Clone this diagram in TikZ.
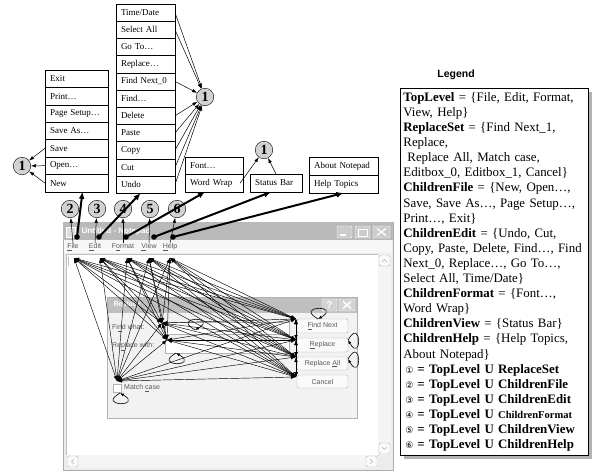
\documentclass[tikz,border=0pt]{standalone}
\usepackage{fontspec}
\setmainfont{Liberation Serif}
\setsansfont{Liberation Sans}
\newfontfamily\circfont{DejaVu Sans}
\usetikzlibrary{positioning,arrows.meta,shadows}
\tikzset{
menuitem/.style={
	draw, rectangle, text width=#1, inner xsep=5pt, inner ysep=0pt,
	minimum height=17.4pt, outer sep=0pt, align=left,
	font=\fontsize{9}{10}\selectfont},
menuitem/.default=53pt,
numcirc/.style={
	draw, circle, fill=gray!35, inner sep=0pt, minimum size=17.5pt,
	font=\fontsize{14}{14}\selectfont\bfseries},
thinarrow/.style={-{Latex[length=5pt,width=3.5pt]}, line width=0.5pt},
thickarrow/.style={-{Latex[length=7pt,width=6pt]}, line width=2pt},
fan/.style={{Latex[length=5pt,width=3.5pt]}-{Latex[length=5pt,width=3.5pt]}, line width=0.45pt},
selfloop/.style={-{Latex[length=4pt,width=3pt]}, line width=0.6pt, min distance=28pt},
guitext/.style={font=\sffamily\fontsize{7}{8}\selectfont, text=gray!70!black, inner sep=0pt},
guibtn/.style={draw=gray!60, fill=gray!4, rounded corners=1.5pt}
}
\newcommand{\circnum}[1]{{\circfont\fontsize{9}{10}\selectfont #1}}

\begin{document}
\begin{tikzpicture}[x=1pt, y=-1pt]
\useasboundingbox (0,0) rectangle (592,472);

% notepad window
\draw[gray!65, fill=gray!15, line width=0.8pt] (63,222) rectangle (393,470);
\fill[gray!55] (63.4,222.4) rectangle (392.6,240);
\draw[white, fill=gray!25] (66,227) rectangle (75,237);
\node[anchor=west, text=white, font=\sffamily\bfseries\fontsize{8}{9}\selectfont] (wtitle) at (78,231) {Untitled - Notepad};
\draw[white, fill=gray!40, rounded corners=1pt] (337,226) rectangle (352,238);
\draw[white, line width=1.2pt] (340,235) -- (346,235);
\draw[white, fill=gray!40, rounded corners=1pt] (355,226) rectangle (370,238);
\draw[white, line width=0.9pt] (358,229) rectangle (367,236);
\draw[white, fill=gray!40, rounded corners=1pt] (373,226) rectangle (390,238);
\draw[white, line width=1.2pt] (377,228.5) -- (386,235.5) (386,228.5) -- (377,235.5);
\fill[gray!6] (64,240) rectangle (392,253);
\node[guitext] (mfile) at (73,247) {\underline{F}ile};
\node[guitext] (medit) at (95,247) {\underline{E}dit};
\node[guitext] (mformat) at (123,247) {F\underline{o}rmat};
\node[guitext] (mview) at (149,247) {\underline{V}iew};
\node[guitext] (mhelp) at (170,247) {\underline{H}elp};
\draw[gray!50, fill=white] (66,254) rectangle (378,455);
\fill[gray!8] (378,254) rectangle (391,455);
\draw[guibtn] (379,255) rectangle (390,266);
\draw[guibtn] (379,443) rectangle (390,454);
\fill[gray!8] (66,455) rectangle (378,468);
\draw[guibtn] (67,456) rectangle (78,467);
\draw[guibtn] (366,456) rectangle (377,467);
\draw[gray!60] (382,262) -- (384.5,259.5) -- (387,262) (382,447) -- (384.5,449.5) -- (387,447)
	(74,459) -- (71.5,461.5) -- (74,464) (370,459) -- (372.5,461.5) -- (370,464);
\fill[gray!50] (68,257) rectangle (69,266);

% replace dialog
\draw[gray!60, fill=gray!10, line width=1pt] (107,297) rectangle (357,418);
\fill[gray!50] (107.5,297.5) rectangle (356.5,313);
\node[anchor=west, text=white, font=\sffamily\bfseries\fontsize{7}{8}\selectfont] (dtitle) at (110,305) {Replace};
\draw[white, fill=gray!35, rounded corners=1pt] (322,299) rectangle (337,311);
\node[text=white, font=\sffamily\bfseries\fontsize{10}{10}\selectfont, inner sep=0pt] (dhelp) at (329.5,305) {?};
\draw[white, fill=gray!35, rounded corners=1pt] (339,299) rectangle (355,311);
\draw[white, line width=1.5pt] (343,301.5) -- (351,308.5) (351,301.5) -- (343,308.5);
\node[guitext, anchor=west] (lblfind) at (112,328) {Fi\underline{n}d what:};
\node[guitext, anchor=west] (lblrepl) at (112,347) {Re\underline{p}lace with:};
\draw[gray!60, fill=white] (165,322) rectangle (289,334);
\draw[gray!60, fill=white] (165,340) rectangle (289,353);
\draw[guibtn] (297,319) rectangle (348,333);
\node[guitext] (txtfind) at (322.5,326) {\underline{F}ind Next};
\draw[guibtn] (297,338) rectangle (348,352);
\node[guitext] (txtrepl) at (322.5,345) {\underline{R}eplace};
\draw[guibtn] (297,357) rectangle (348,370);
\node[guitext] (txtall) at (322.5,363.5) {Replace \underline{A}ll};
\draw[guibtn] (297,375) rectangle (348,388);
\node[guitext] (txtcancel) at (322.5,381.5) {Cancel};
\draw[gray!60, fill=white] (113,384) rectangle (121,392);
\node[guitext, anchor=west] (lblmatch) at (124,388) {Match \underline{c}ase};

% event points
\coordinate (lfile) at (74,258);
\coordinate (ledit) at (100,258);
\coordinate (lformat) at (127,258);
\coordinate (lview) at (149,258);
\coordinate (lhelp) at (170,258);
\coordinate (dfind) at (162,323);
\coordinate (drepl) at (167,340);
\coordinate (dmatch) at (117,381);
\coordinate (bfind) at (296,319);
\coordinate (brepl) at (296,340);
\coordinate (ball) at (296,357);
\coordinate (bcancel) at (296,377);

\foreach \m in {lfile,ledit,lformat,lview,lhelp}
	\foreach \d in {dfind,drepl,dmatch,bfind,brepl,ball,bcancel}
		\draw[fan] (\m) -- (\d);
\foreach \a/\b in {dmatch/dfind,dmatch/drepl,dmatch/bfind,dmatch/brepl,dmatch/ball,dmatch/bcancel,
	dfind/drepl,dfind/bfind,dfind/brepl,dfind/ball,dfind/bcancel,
	drepl/bfind,drepl/brepl,drepl/ball,drepl/bcancel,
	bfind/brepl,bfind/ball,bfind/bcancel,brepl/ball,brepl/bcancel,ball/bcancel}
	\draw[fan] (\a) -- (\b);

% self loops
\coordinate (lpfn) at (318,319);
\coordinate (lprp) at (348,340);
\coordinate (lpra) at (348,359);
\coordinate (lpmc) at (120,393);
\coordinate (lpe1) at (176,353);
\coordinate (lpe0) at (195,330);
\draw[selfloop] (lpfn) to[out=150,in=30] (lpfn);
\draw[selfloop] (lprp) to[out=60,in=-60] (lprp);
\draw[selfloop] (lpra) to[out=60,in=-60] (lpra);
\draw[selfloop] (lpmc) to[out=-150,in=-30] (lpmc);
\draw[selfloop] (lpe1) to[out=-150,in=-30] (lpe1);
\draw[selfloop] (lpe0) to[out=150,in=30] (lpe0);

% file menu
\node[menuitem, anchor=north west] (fexit) at (45,70) {Exit};
\node[menuitem, below=0pt of fexit] (fprint) {Print…};
\node[menuitem, below=0pt of fprint] (fpage) {Page Setup…};
\node[menuitem, below=0pt of fpage] (fsaveas) {Save As…};
\node[menuitem, below=0pt of fsaveas] (fsave) {Save};
\node[menuitem, below=0pt of fsave] (fopen) {Open…};
\node[menuitem, below=0pt of fopen] (fnew) {New};

% edit menu
\tikzset{editrow/.style={menuitem=49pt, minimum height=17.2pt}}
\node[editrow, anchor=north west] (etime) at (116,4) {Time/Date};
\node[editrow, below=0pt of etime] (esel) {Select All};
\node[editrow, below=0pt of esel] (egoto) {Go To…};
\node[editrow, below=0pt of egoto] (erepl) {Replace…};
\node[editrow, below=0pt of erepl] (efind0) {Find Next\_0};
\node[editrow, below=0pt of efind0] (efind) {Find…};
\node[editrow, below=0pt of efind] (edel) {Delete};
\node[editrow, below=0pt of edel] (epaste) {Paste};
\node[editrow, below=0pt of epaste] (ecopy) {Copy};
\node[editrow, below=0pt of ecopy] (ecut) {Cut};
\node[editrow, below=0pt of ecut] (eundo) {Undo};

% format, view, help menus
\node[menuitem=48pt, minimum height=17.5pt, anchor=north west] (ofont) at (185,157) {Font…};
\node[menuitem=48pt, minimum height=17.5pt, below=0pt of ofont] (owrap) {Word Wrap};
\node[menuitem=42pt, minimum height=18pt, anchor=north west] (vstatus) at (250,174) {Status Bar};
\node[menuitem=59pt, minimum height=18pt, anchor=north west] (habout) at (309,157) {About Notepad};
\node[menuitem=59pt, minimum height=18pt, below=0pt of habout] (htopics) {Help Topics};

% state circles
\node[numcirc] (cfile) at (22,166) {1};
\node[numcirc] (cedit) at (205,97) {1};
\node[numcirc] (cview) at (264,150) {1};
\node[numcirc] (n2) at (70,209) {2};
\node[numcirc] (n3) at (97,209) {3};
\node[numcirc] (n4) at (123,209) {4};
\node[numcirc] (n5) at (150,209) {5};
\node[numcirc] (n6) at (177,209) {6};

\foreach \i in {fsave,fopen,fnew}
	\draw[thinarrow] (\i.west) -- (cfile);
\foreach \i in {etime,esel,efind0,edel,epaste,ecopy,ecut,eundo}
	\draw[thinarrow] (\i.east) -- (cedit);
\draw[thinarrow] ([xshift=-3pt]owrap.east) -- (cview);
\draw[thinarrow] (vstatus.north) -- (cview);

\draw[thinarrow] (mfile.north) -- (n2);
\draw[thinarrow] (medit.north) -- (n3);
\draw[thinarrow] (mformat.north) -- (n4);
\draw[thinarrow] (mview.north) -- (n5);
\draw[thinarrow] (mhelp.north) -- (n6);

% menu openings
\coordinate (ufile) at (77,237);
\coordinate (uedit) at (99,237);
\coordinate (uformat) at (126,237);
\coordinate (uview) at (154,237);
\coordinate (uhelp) at (173,237);
\foreach \u in {ufile,uedit,uformat,uview,uhelp}
	\fill (\u) circle (2.8);
\draw[thickarrow] (ufile) -- ([xshift=6pt]fnew.south);
\draw[thickarrow] (uedit) -- ([xshift=-5pt]eundo.south);
\draw[thickarrow] (uformat) -- ([xshift=-9pt]owrap.south);
\draw[thickarrow] (uview) -- ([xshift=-5pt]vstatus.south);
\draw[thickarrow] (uhelp) -- (htopics.south);

% legend
\node[font=\sffamily\bfseries\fontsize{10.5}{12}\selectfont] (legtitle) at (456,75) {Legend};
\node[draw, line width=0.8pt, fill=white, anchor=north west,
	drop shadow={shadow xshift=4pt, shadow yshift=-4pt, fill=gray!60, opacity=1},
	text width=182pt, inner xsep=3pt, inner ysep=4pt, align=left,
	font=\fontsize{12.9}{15.1}\selectfont] (legend) at (400,88) {%
\textbf{TopLevel} = \{File, Edit, Format,\\
View, Help\}\\
\textbf{ReplaceSet} = \{Find Next\_1,\\
Replace,\\
\hspace*{4pt}Replace All, Match case,\\
Editbox\_0, Editbox\_1, Cancel\}\\
\textbf{ChildrenFile} = \{New, Open…,\\
Save, Save As…, Page Setup…,\\
Print…, Exit\}\\
\textbf{ChildrenEdit} = \{Undo, Cut,\\
Copy, Paste, Delete, Find…, Find\\
Next\_0, Replace…, Go To…,\\
Select All, Time/Date\}\\
\textbf{ChildrenFormat} = \{Font…,\\
Word Wrap\}\\
\textbf{ChildrenView} = \{Status Bar\}\\
\textbf{ChildrenHelp} = \{Help Topics,\\
About Notepad\}\\
\hspace*{2pt}\circnum{①}\hspace{4pt}\textbf{= TopLevel U ReplaceSet}\\
\hspace*{2pt}\circnum{②}\hspace{4pt}\textbf{= TopLevel U ChildrenFile}\\
\hspace*{2pt}\circnum{③}\hspace{4pt}\textbf{= TopLevel U ChildrenEdit}\\
\hspace*{2pt}\circnum{④}\hspace{4pt}\textbf{= TopLevel U {\fontsize{10.5}{15.1}\selectfont ChildrenFormat}}\\
\hspace*{2pt}\circnum{⑤}\hspace{4pt}\textbf{= TopLevel U ChildrenView}\\
\hspace*{2pt}\circnum{⑥}\hspace{4pt}\textbf{= TopLevel U ChildrenHelp}};
\end{tikzpicture}
\end{document}
